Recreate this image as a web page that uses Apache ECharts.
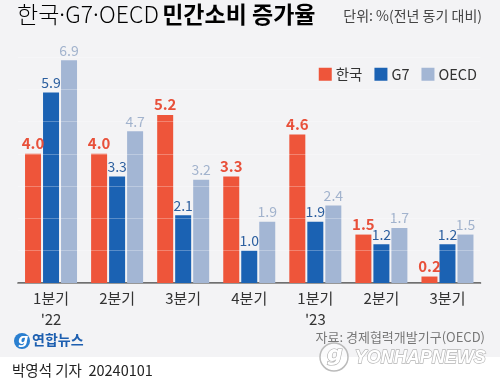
<!DOCTYPE html>
<html><head><meta charset="utf-8">
<script src="https://cdn.jsdelivr.net/npm/echarts@6/dist/echarts.min.js"></script>
<style>html,body{margin:0;padding:0;background:#f3f3f5}#c{width:500px;height:388px}</style>
</head><body><div id="c"></div>
<script>
const categories = ['1분기\n\'22', '2분기', '3분기', '4분기', '1분기\n\'23', '2분기', '3분기'];
const korea = [4.0, 4.0, 5.2, 3.3, 4.6, 1.5, 0.2];
const g7 = [5.9, 3.3, 2.1, 1.0, 1.9, 1.2, 1.2];
const oecd = [6.9, 4.7, 3.2, 1.9, 2.4, 1.7, 1.5];
const seriesNames = ['한국', 'G7', 'OECD'];

const FONT = '"Noto Sans CJK KR", "Noto Sans", sans-serif';
const chart = echarts.init(document.getElementById('c'), null, {renderer: 'canvas'});
const barCommon = {type: 'bar', barWidth: 16, barGap: '12.5%', barCategoryGap: '20%'};
chart.setOption({
  backgroundColor: '#f3f3f5',
  animation: false,
  textStyle: {fontFamily: FONT},
  grid: {left: 18, right: 19.5, top: 57, bottom: 105, containLabel: false},
  legend: {
    right: 18, top: 62, itemWidth: 13, itemHeight: 13, itemGap: 12,
    icon: 'rect',
    textStyle: {fontSize: 14.5, color: '#333', fontFamily: FONT, padding: [0, 0, 0, -1]},
    data: seriesNames
  },
  xAxis: {
    type: 'category', data: categories,
    axisLine: {lineStyle: {color: '#444', width: 1.5}},
    axisTick: {show: false},
    axisLabel: {fontSize: 15, color: '#333', lineHeight: 21, margin: 5, fontFamily: FONT}
  },
  yAxis: {
    type: 'value', min: 0, max: 7, interval: 1, z: 10,
    axisLabel: {show: false}, axisLine: {show: false}, axisTick: {show: false},
    splitLine: {lineStyle: {color: 'rgba(255,255,255,0.28)', width: 1}}
  },
  series: [
    Object.assign({}, barCommon, {name: seriesNames[0], data: korea,
      itemStyle: {color: '#ee553a'},
      label: {show: true, position: 'top', distance: 3, formatter: p => p.value.toFixed(1),
        color: '#e8503a', fontWeight: 'bold', fontSize: 15, fontFamily: FONT}}),
    Object.assign({}, barCommon, {name: seriesNames[1], data: g7,
      itemStyle: {color: '#1b62b3'},
      label: {show: true, position: 'top', distance: 3, formatter: p => p.value.toFixed(1),
        color: '#2c5f9f', fontSize: 14, fontFamily: FONT}}),
    Object.assign({}, barCommon, {name: seriesNames[2], data: oecd,
      itemStyle: {color: '#a3b6d4'},
      label: {show: true, position: 'top', distance: 3, formatter: p => p.value.toFixed(1),
        color: '#a2b3cd', fontSize: 14, fontFamily: FONT}})
  ],
  graphic: [
    {type: 'rect', shape: {x: 0, y: 357, width: 500, height: 31}, style: {fill: '#ffffff'}, z: 0},
    {type: 'text', left: 17, top: 3, style: {
      rich: {a: {fontSize: 23, color: '#222', fontFamily: FONT, fontWeight: 300},
             d: {fontSize: 23, color: '#222', fontFamily: FONT, fontWeight: 300, width: 6, align: 'center'},
             b: {fontSize: 23, color: '#111', fontFamily: FONT, fontWeight: 'bold'}},
      text: '{a|한국}{d|·}{a|G7}{d|·}{a|OECD} {b|민간소비 증가율}'}},
    {type: 'text', right: 18, top: 9, style: {text: '단위: %(전년 동기 대비)', fontSize: 14, fill: '#444', fontFamily: FONT}},
    {type: 'text', right: 15, top: 331, style: {text: '자료: 경제협력개발기구(OECD)', fontSize: 13, fill: '#777', fontFamily: FONT}},
    {type: 'circle', shape: {cx: 22, cy: 341, r: 8}, style: {fill: '#2a7fd0'}},
    {type: 'text', x: 18, y: 333, style: {text: 'ɡ', fontSize: 14, fontStyle: 'italic', fontWeight: 'bold', fill: '#fff', fontFamily: 'DejaVu Sans'}},
    {type: 'text', left: 32, top: 333, style: {text: '연합뉴스', fontSize: 14, fontWeight: 'bold', fill: '#1d5fb0', fontFamily: FONT}},
    {type: 'circle', shape: {cx: 334, cy: 357, r: 14}, style: {fill: 'rgba(255,255,255,0.6)', stroke: '#bbb', lineWidth: 1.5}, z: 5},
    {type: 'text', x: 327, y: 344, style: {text: 'g', fontSize: 22, fontStyle: 'italic', fontWeight: 'bold', fill: '#fff', stroke: '#aaa', lineWidth: 1.2, fontFamily: 'DejaVu Sans'}, z: 6},
    {type: 'text', left: 354, top: 348, style: {text: 'YONHAPNEWS', fontSize: 18, fontStyle: 'italic', fontWeight: 'bold', fill: '#ffffff', stroke: '#b5b5b5', lineWidth: 1.3, fontFamily: '"Liberation Sans", sans-serif'}, z: 6},
    {type: 'text', left: 12, top: 363, style: {text: '박영석 기자  20240101', fontSize: 14.5, fill: '#222', fontFamily: FONT}}
  ]
});
</script></body></html>
